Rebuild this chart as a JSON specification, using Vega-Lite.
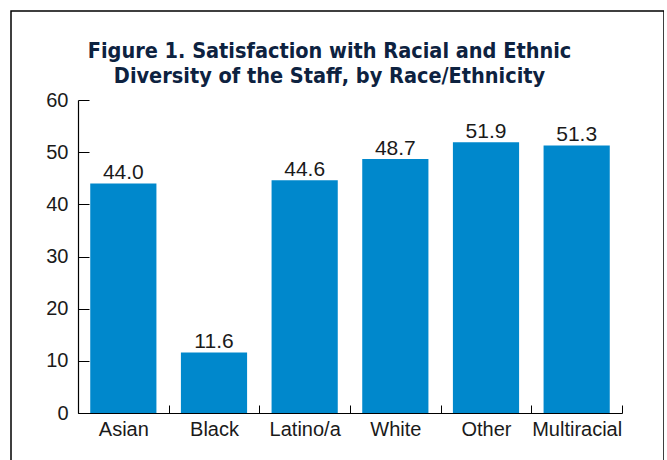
{
  "$schema": "https://vega.github.io/schema/vega-lite/v6.json",
  "width": 653,
  "height": 460,
  "autosize": {"type": "none"},
  "padding": {"left": 11, "top": 11, "right": 0, "bottom": 0},
  "background": "white",
  "config": {"view": {"stroke": "#000000", "strokeWidth": 1.5}},
  "title": {
    "text": ["Figure 1. Satisfaction with Racial and Ethnic", "Diversity of the Staff, by Race/Ethnicity"],
    "font": "DejaVu Sans Condensed, Roboto, sans-serif",
    "fontWeight": "bold",
    "fontSize": 21.5,
    "color": "#0d2240",
    "anchor": "middle",
    "frame": "group",
    "baseline": "top",
    "offset": -76,
    "lineHeight": 25,
    "dx": -8
  },
  "data": {
    "values": [
      {"race": "Asian", "value": 44.0},
      {"race": "Black", "value": 11.6},
      {"race": "Latino/a", "value": 44.6},
      {"race": "White", "value": 48.7},
      {"race": "Other", "value": 51.9},
      {"race": "Multiracial", "value": 51.3}
    ]
  },
  "encoding": {
    "x": {
      "field": "race",
      "type": "nominal",
      "sort": null,
      "scale": {"range": [67, 611], "paddingInner": 0, "paddingOuter": 0},
      "axis": {
        "title": null,
        "labelAngle": 0,
        "tickBand": "extent",
        "tickSize": -8,
        "tickColor": "#000",
        "domainColor": "#000",
        "domainWidth": 1.2,
        "labelFont": "Liberation Sans",
        "labelFontSize": 20,
        "labelColor": "#1a1a1a",
        "labelPadding": 14,
        "offset": -58,
        "grid": false
      }
    },
    "y": {
      "field": "value",
      "type": "quantitative",
      "scale": {"domain": [0, 60], "range": [402, 89], "nice": false},
      "axis": {
        "title": null,
        "values": [0, 10, 20, 30, 40, 50, 60],
        "tickSize": -11,
        "tickColor": "#000",
        "domainColor": "#000",
        "domainWidth": 1.2,
        "labelFont": "Liberation Sans",
        "labelFontSize": 20,
        "labelColor": "#1a1a1a",
        "labelPadding": 21,
        "offset": -67,
        "grid": false
      }
    }
  },
  "layer": [
    {"mark": {"type": "bar", "width": {"band": 0.73}, "color": "#0088cc"}},
    {
      "mark": {"type": "text", "baseline": "alphabetic", "dy": -4, "fontSize": 21, "font": "Liberation Sans", "color": "#1a1a1a"},
      "encoding": {"text": {"field": "value", "type": "quantitative", "format": ".1f"}}
    }
  ]
}
